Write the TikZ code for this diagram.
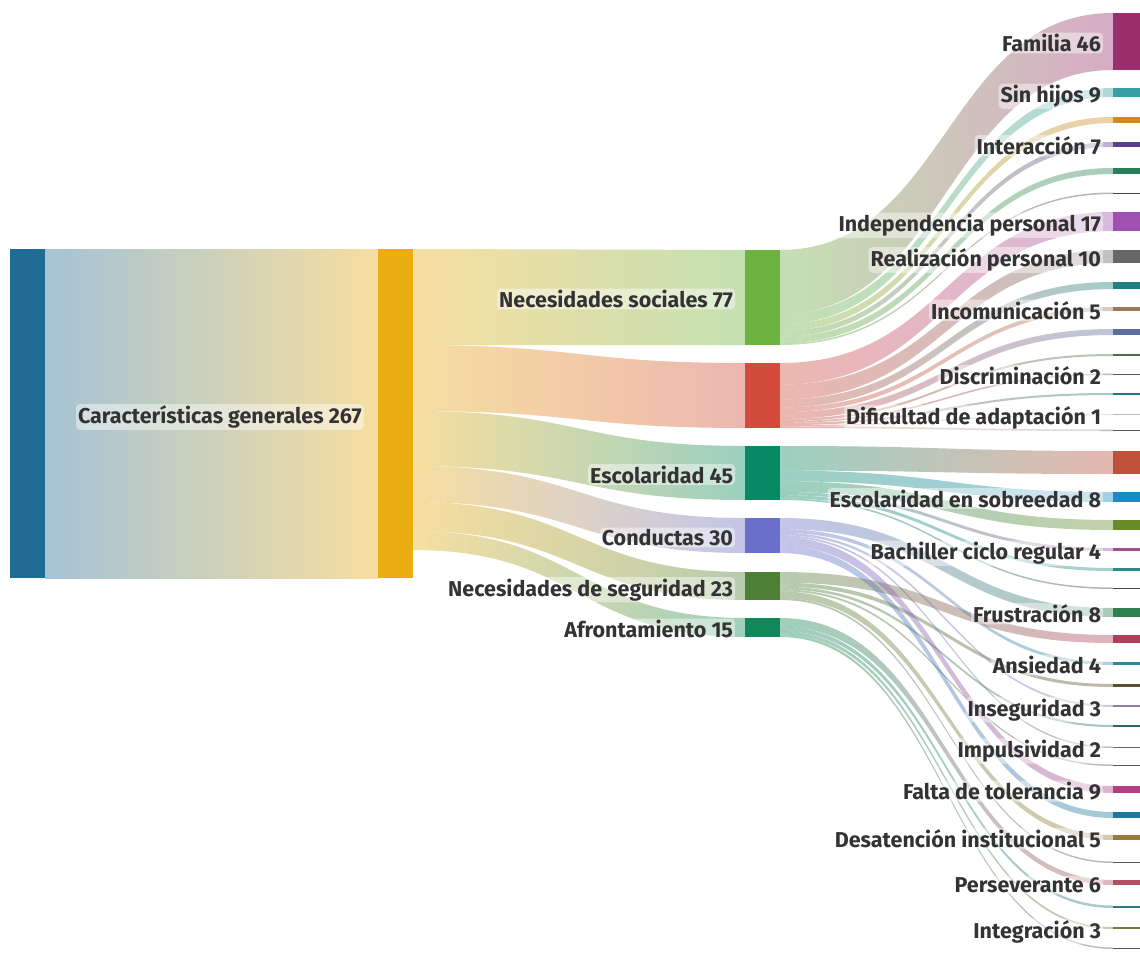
\documentclass[tikz,border=0pt]{standalone}
\usepackage{fontspec}
\setmainfont{Fira Sans}
\usetikzlibrary{calc}
\definecolor{cA}{HTML}{1F6B96}
\definecolor{cB}{HTML}{EBAE12}
\definecolor{mNS}{HTML}{6DB33F}
\definecolor{mR}{HTML}{D24B3B}
\definecolor{mE}{HTML}{078A63}
\definecolor{mC}{HTML}{6A6FCB}
\definecolor{mS}{HTML}{4D7F36}
\definecolor{mA}{HTML}{118859}
\definecolor{txt}{HTML}{333333}
\definecolor{k1}{HTML}{9B2F6E}
\definecolor{k2}{HTML}{3AA0A8}
\definecolor{k3}{HTML}{D38A1F}
\definecolor{k4}{HTML}{5B3E8F}
\definecolor{k5}{HTML}{2A7F5A}
\definecolor{k6}{HTML}{444444}
\definecolor{k7}{HTML}{A050B0}
\definecolor{k8}{HTML}{666666}
\definecolor{k9}{HTML}{1E8080}
\definecolor{k10}{HTML}{9C7A5A}
\definecolor{k11}{HTML}{5A6FA0}
\definecolor{k12}{HTML}{4A6A4A}
\definecolor{k13}{HTML}{6A4A6A}
\definecolor{k14}{HTML}{1E7A7A}
\definecolor{k15}{HTML}{BBBBBB}
\definecolor{k16}{HTML}{555555}
\definecolor{k17}{HTML}{C0503A}
\definecolor{k18}{HTML}{1E88C8}
\definecolor{k19}{HTML}{6A8A2A}
\definecolor{k20}{HTML}{A05090}
\definecolor{k21}{HTML}{2A8A8A}
\definecolor{k22}{HTML}{444444}
\definecolor{k23}{HTML}{2E8050}
\definecolor{k24}{HTML}{B0405A}
\definecolor{k25}{HTML}{2A8A9A}
\definecolor{k26}{HTML}{5A5030}
\definecolor{k27}{HTML}{9080A0}
\definecolor{k28}{HTML}{2A6A6A}
\definecolor{k29}{HTML}{666666}
\definecolor{k30}{HTML}{555555}
\definecolor{k31}{HTML}{B04080}
\definecolor{k32}{HTML}{1E7A9A}
\definecolor{k33}{HTML}{9A7A3A}
\definecolor{k34}{HTML}{555555}
\definecolor{k35}{HTML}{B05060}
\definecolor{k36}{HTML}{2A7A8A}
\definecolor{k37}{HTML}{7A7A3A}
\definecolor{k38}{HTML}{555555}
\tikzset{
  bar/.style={rectangle, inner sep=0pt, outer sep=0pt, anchor=north west, fill=#1},
  lbl/.style={inner xsep=2pt, inner ysep=1.5pt, outer sep=0pt, text=txt,
    fill=white, fill opacity=.45, text opacity=1, rounded corners=4pt,
    font=\fontsize{21.5}{24}\selectfont\bfseries},
}
% band from source node (offsets a..b below its north east) to whole target node
\newcommand\band[6]{%
  \shade[left color=#5, right color=#6, fill opacity=.4]
    let \p1=(#1.north east), \p2=(#4.north west), \p3=(#4.south west),
        \n1={0.5*(\x1+\x2)} in
    (\x1,\y1-#2pt) .. controls (\n1,\y1-#2pt) and (\n1,\y2) .. (\x2,\y2)
    -- (\x3,\y3) .. controls (\n1,\y3) and (\n1,\y1-#3pt) .. (\x1,\y1-#3pt) -- cycle;}
\newcommand\rnode[4]{\node[bar=#4, minimum width=27pt, minimum height=#3pt] (#1) at (1113,#2) {};}
% right-aligned label, baseline 10px below the node's centre
\newcommand\rlab[3]{\node[lbl, anchor=base east] (#1) at ($(#2.west)+(-10,10)$) {#3};}
\begin{document}
\begin{tikzpicture}[x=1pt,y=-1pt]
\useasboundingbox (0,0) rectangle (1140,961);
\fill[white] (0,0) rectangle (1140,961);
% ---------- nodes ----------
\node[bar=cA, minimum width=35pt, minimum height=329pt] (n0) at (10,249) {};
\node[bar=cB, minimum width=35pt, minimum height=329pt] (n1) at (378,249) {};
\node[bar=mNS, minimum width=35pt, minimum height=95pt] (ns) at (745,250) {};
\node[bar=mR,  minimum width=35pt, minimum height=65pt] (rx) at (745,363) {};
\node[bar=mE,  minimum width=35pt, minimum height=54pt] (es) at (745,446) {};
\node[bar=mC,  minimum width=35pt, minimum height=35pt] (co) at (745,518) {};
\node[bar=mS,  minimum width=35pt, minimum height=28pt] (se) at (745,572) {};
\node[bar=mA,  minimum width=35pt, minimum height=19pt] (af) at (745,618) {};
\rnode{r1}{13}{57}{k1}
\rnode{r2}{88}{9}{k2}
\rnode{r3}{117}{6}{k3}
\rnode{r4}{142}{5}{k4}
\rnode{r5}{168}{6}{k5}
\rnode{r6}{192.5}{1.5}{k6}
\rnode{r7}{212}{19}{k7}
\rnode{r8}{250}{13}{k8}
\rnode{r9}{282}{7}{k9}
\rnode{r10}{307}{4}{k10}
\rnode{r11}{329}{6}{k11}
\rnode{r12}{354}{2}{k12}
\rnode{r13}{373.5}{1.5}{k13}
\rnode{r14}{393}{2}{k14}
\rnode{r15}{414}{1}{k15}
\rnode{r16}{429.5}{1.5}{k16}
\rnode{r17}{451}{23}{k17}
\rnode{r18}{492}{10}{k18}
\rnode{r19}{520}{10}{k19}
\rnode{r20}{548}{3}{k20}
\rnode{r21}{568}{3}{k21}
\rnode{r22}{587.5}{1.5}{k22}
\rnode{r23}{608}{9}{k23}
\rnode{r24}{635}{8}{k24}
\rnode{r25}{662}{3}{k25}
\rnode{r26}{684}{3}{k26}
\rnode{r27}{705}{2}{k27}
\rnode{r28}{725}{2}{k28}
\rnode{r29}{746.5}{1.5}{k29}
\rnode{r30}{764.5}{1.5}{k30}
\rnode{r31}{786}{7}{k31}
\rnode{r32}{812}{6}{k32}
\rnode{r33}{835}{5}{k33}
\rnode{r34}{861.5}{1.5}{k34}
\rnode{r35}{880}{5}{k35}
\rnode{r36}{905.5}{2.5}{k36}
\rnode{r37}{927}{2}{k37}
\rnode{r38}{947.5}{1.5}{k38}
% ---------- links ----------
\band{n0}{0}{329}{n1}{cA}{cB}
\band{n1}{0}{96}{ns}{cB}{mNS}
\band{n1}{96}{162}{rx}{cB}{mR}
\band{n1}{162}{217}{es}{cB}{mE}
\band{n1}{217}{253}{co}{cB}{mC}
\band{n1}{253}{282}{se}{cB}{mS}
\band{n1}{282}{301}{af}{cB}{mA}
% Necesidades sociales
\band{ns}{0}{64.1}{r1}{mNS}{k1}
\band{ns}{64.1}{74.2}{r2}{mNS}{k2}
\band{ns}{74.2}{81.0}{r3}{mNS}{k3}
\band{ns}{81.0}{86.6}{r4}{mNS}{k4}
\band{ns}{86.6}{93.3}{r5}{mNS}{k5}
\band{ns}{93.3}{95}{r6}{mNS}{k6}
% red node
\band{rx}{0}{21.67}{r7}{mR}{k7}
\band{rx}{21.67}{36.49}{r8}{mR}{k8}
\band{rx}{36.49}{44.47}{r9}{mR}{k9}
\band{rx}{44.47}{49.04}{r10}{mR}{k10}
\band{rx}{49.04}{55.88}{r11}{mR}{k11}
\band{rx}{55.88}{58.16}{r12}{mR}{k12}
\band{rx}{58.16}{59.87}{r13}{mR}{k13}
\band{rx}{59.87}{62.15}{r14}{mR}{k14}
\band{rx}{62.15}{63.29}{r15}{mR}{k15}
\band{rx}{63.29}{65}{r16}{mR}{k16}
% Escolaridad
\band{es}{0}{24.59}{r17}{mE}{k17}
\band{es}{24.59}{35.29}{r18}{mE}{k18}
\band{es}{35.29}{45.98}{r19}{mE}{k19}
\band{es}{45.98}{49.19}{r20}{mE}{k20}
\band{es}{49.19}{52.40}{r21}{mE}{k21}
\band{es}{52.40}{54}{r22}{mE}{k22}
% Seguridad
\band{se}{0}{10.67}{r24}{mS}{k24}
\band{se}{10.67}{14.67}{r26}{mS}{k26}
\band{se}{14.67}{17.33}{r28}{mS}{k28}
\band{se}{17.33}{19.33}{r30}{mS}{k30}
\band{se}{19.33}{26}{r33}{mS}{k33}
\band{se}{26}{28}{r34}{mS}{k34}
% Afrontamiento
\band{af}{0}{8.64}{r35}{mA}{k35}
\band{af}{8.64}{12.95}{r36}{mA}{k36}
\band{af}{12.95}{16.41}{r37}{mA}{k37}
\band{af}{16.41}{19}{r38}{mA}{k38}
% Conductas
\band{co}{0}{11.05}{r23}{mC}{k23}
\band{co}{11.05}{14.74}{r25}{mC}{k25}
\band{co}{14.74}{17.19}{r27}{mC}{k27}
\band{co}{17.19}{19.04}{r29}{mC}{k29}
\band{co}{19.04}{27.63}{r31}{mC}{k31}
\band{co}{27.63}{35}{r32}{mC}{k32}
% ---------- labels ----------
\node[lbl, anchor=base west] (t0) at ($(n0.east)+(31,10)$) {Características generales 267};
\rlab{tns}{ns}{Necesidades sociales 77}
\rlab{tes}{es}{Escolaridad 45}
\rlab{tco}{co}{Conductas 30}
\rlab{tse}{se}{Necesidades de seguridad 23}
\rlab{taf}{af}{Afrontamiento 15}
\rlab{t1}{r1}{Familia 46}
\rlab{t2}{r2}{Sin hijos 9}
\rlab{t4}{r4}{Interacción 7}
\rlab{t7}{r7}{Independencia personal 17}
\rlab{t8}{r8}{Realización personal 10}
\rlab{t10}{r10}{Incomunicación 5}
\rlab{t13}{r13}{Discriminación 2}
\rlab{t15}{r15}{Dificultad de adaptación 1}
\rlab{t18}{r18}{Escolaridad en sobreedad 8}
\rlab{t20}{r20}{Bachiller ciclo regular 4}
\rlab{t23}{r23}{Frustración 8}
\rlab{t25}{r25}{Ansiedad 4}
\rlab{t27}{r27}{Inseguridad 3}
\rlab{t29}{r29}{Impulsividad 2}
\rlab{t31}{r31}{Falta de tolerancia 9}
\rlab{t33}{r33}{Desatención institucional 5}
\rlab{t35}{r35}{Perseverante 6}
\rlab{t37}{r37}{Integración 3}
\end{tikzpicture}
\end{document}
